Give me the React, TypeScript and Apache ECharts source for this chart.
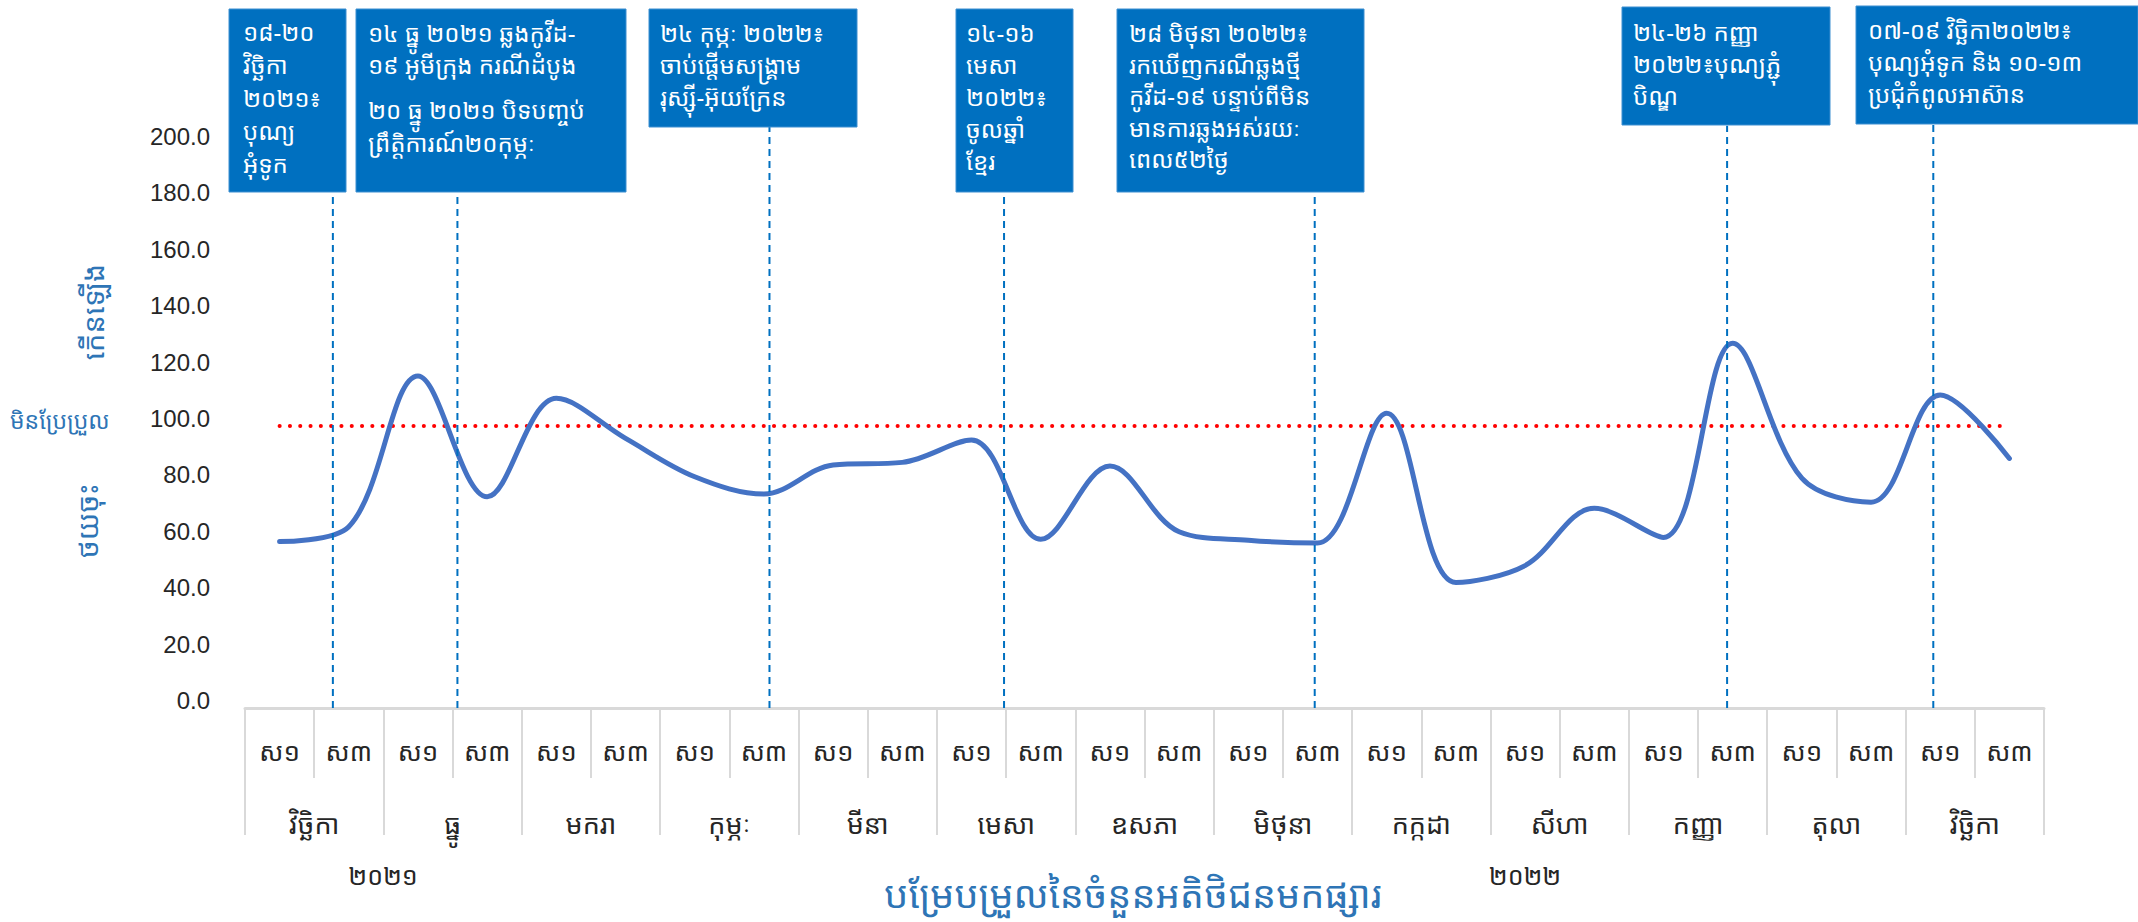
import React, { useEffect, useRef } from 'react';
import * as echarts from 'echarts';

// ---------- data ----------
const weekLabels = [
  'ស១', 'ស៣', 'ស១', 'ស៣', 'ស១', 'ស៣', 'ស១', 'ស៣', 'ស១', 'ស៣', 'ស១', 'ស៣', 'ស១',
  'ស៣', 'ស១', 'ស៣', 'ស១', 'ស៣', 'ស១', 'ស៣', 'ស១', 'ស៣', 'ស១', 'ស៣', 'ស១', 'ស៣',
];
const monthLabels = [
  'វិច្ឆិកា', 'ធ្នូ', 'មករា', 'កុម្ភៈ', 'មីនា', 'មេសា', 'ឧសភា',
  'មិថុនា', 'កក្កដា', 'សីហា', 'កញ្ញា', 'តុលា', 'វិច្ឆិកា',
];
const yearLabels = ['២០២១', '២០២២'];
const customerIndex = [
  59.0, 64.3, 117.7, 74.9, 109.8, 95.6, 82.0, 75.9, 86.2, 87.1, 95.0, 59.8, 85.8,
  62.5, 59.5, 58.5, 104.5, 44.5, 50.5, 70.8, 60.5, 129.3, 81.5, 73.0, 111.0, 88.5,
];
const unchangedLevel = 100;
const yMin = 0;
const yMax = 200;
const yInterval = 20;
// event positions in week-slot units (0 = left edge of first slot)
const eventPositions = [1.27, 3.07, 7.58, 10.97, 15.46, 21.42, 24.4];
const eventTops = [183, 183, 206, 183, 183, 206.5, 207];
const eventTexts: string[][][] = [
  [['១៨-២០', 'វិច្ឆិកា', '២០២១៖', 'បុណ្យ', 'អុំទូក']],
  [['១៤ ធ្នូ ២០២១ ឆ្លងកូវីដ-', '១៩ អូមីក្រុង ករណីដំបូង'], ['២០ ធ្នូ ២០២១ បិទបញ្ចប់', 'ព្រឹត្តិការណ៍២០កុម្ភៈ']],
  [['២៤ កុម្ភៈ ២០២២៖', 'ចាប់ផ្តើមសង្គ្រាម', 'រុស្ស៊ី-អ៊ុយក្រែន']],
  [['១៤-១៦', 'មេសា', '២០២២៖', 'ចូលឆ្នាំ', 'ខ្មែរ']],
  [['២៨ មិថុនា ២០២២៖', 'រកឃើញករណីឆ្លងថ្មី', 'កូវីដ-១៩ បន្ទាប់ពីមិន', 'មានការឆ្លងអស់រយៈ', 'ពេល៥២ថ្ងៃ']],
  [['២៤-២៦ កញ្ញា', '២០២២៖បុណ្យភ្ជុំ', 'បិណ្ឌ']],
  [['០៧-០៩ វិច្ឆិកា២០២២៖', 'បុណ្យអុំទូក និង ១០-១៣', 'ប្រជុំកំពូលអាស៊ាន']],
];
const chartTitle = 'បម្រែបម្រួលនៃចំនួនអតិថិជនមកផ្សារ';
const sideUp = 'កើនឡើង';
const sideFlat = 'មិនប្រែប្រួល';
const sideDown = 'ថយចុះ';

// ---------- layout / style ----------
const W = 2138;
const H = 922;
const KH = "'Noto Sans Khmer','Khmer OS System','Khmer OS','Noto Serif Khmer','Noto Sans',sans-serif";
const LAT = "'Liberation Sans',Arial,Helvetica,sans-serif";
const BOX_BLUE = '#0070C0';
const TXT_BLUE = '#2E75B6';
const GRAY = '#D9D9D9';
const DARK = '#262626';

// box layouts: rect and text blocks (top y of each block, line height)
const boxLayout = [
  { x: 229, y: 9, w: 117, h: 183, tx: 243, blocks: [{ y: 15, lh: 33 }] },
  { x: 356, y: 9, w: 270, h: 183, tx: 368, blocks: [{ y: 16, lh: 32 }, { y: 93, lh: 33 }] },
  { x: 649, y: 9, w: 208, h: 118, tx: 660, blocks: [{ y: 16, lh: 32 }] },
  { x: 956, y: 9, w: 117, h: 183, tx: 966, blocks: [{ y: 16, lh: 32 }] },
  { x: 1117, y: 9, w: 247, h: 183, tx: 1129, blocks: [{ y: 17, lh: 31.5 }] },
  { x: 1622, y: 7, w: 208, h: 118, tx: 1633, blocks: [{ y: 15, lh: 32 }] },
  { x: 1856, y: 6, w: 282, h: 118, tx: 1868, blocks: [{ y: 13, lh: 32 }] },
];

function buildGraphics() {
  const g: any[] = [];
  eventTexts.forEach((blocks, i) => {
    const L = boxLayout[i];
    g.push({
      type: 'rect',
      shape: { x: L.x, y: L.y, width: L.w, height: L.h },
      style: { fill: BOX_BLUE, stroke: '#3d8fd1', lineWidth: 1 },
      z: 100,
    });
    blocks.forEach((lines, b) => {
      const B = L.blocks[b];
      g.push({
        type: 'text',
        x: L.tx,
        y: B.y,
        z: 101,
        style: {
          text: lines.join('\n'),
          fill: '#FFFFFF',
          font: `24px ${KH}`,
          lineHeight: B.lh,
          align: 'left',
          verticalAlign: 'top',
        },
      });
    });
  });
  // year labels
  g.push({ type: 'text', x: 383, y: 875, style: { text: yearLabels[0], fill: DARK, font: `25px ${KH}`, align: 'center', verticalAlign: 'middle' } });
  g.push({ type: 'text', x: 1525, y: 875, style: { text: yearLabels[1], fill: DARK, font: `25px ${KH}`, align: 'center', verticalAlign: 'middle' } });
  // title
  g.push({ type: 'text', x: 1133, y: 893, style: { text: chartTitle, fill: TXT_BLUE, font: `38px ${KH}`, align: 'center', verticalAlign: 'middle' } });
  // side labels
  g.push({ type: 'text', x: 92, y: 312, rotation: Math.PI / 2, style: { text: sideUp, fill: TXT_BLUE, font: `29px ${KH}`, align: 'center', verticalAlign: 'middle' } });
  g.push({ type: 'text', x: 10, y: 420, style: { text: sideFlat, fill: TXT_BLUE, font: `23px ${KH}`, align: 'left', verticalAlign: 'middle' } });
  g.push({ type: 'text', x: 86, y: 521, rotation: Math.PI / 2, style: { text: sideDown, fill: TXT_BLUE, font: `29px ${KH}`, align: 'center', verticalAlign: 'middle' } });
  return g;
}

export default function App() {
  const ref = useRef<HTMLDivElement>(null);
  useEffect(() => {
    document.body.style.margin = '0';
    document.body.style.overflow = 'hidden';
    const chart = echarts.init(ref.current!, null, { renderer: 'svg' });
    const option: any = {
      animation: false,
      backgroundColor: '#FFFFFF',
      grid: { left: 245, right: 94, top: 144, bottom: 214, containLabel: false },
      xAxis: [
        {
          type: 'category',
          data: weekLabels,
          position: 'bottom',
          boundaryGap: true,
          axisLine: { show: true, lineStyle: { color: GRAY, width: 3 } },
          axisTick: { show: true, interval: 0, length: 70, lineStyle: { color: GRAY, width: 2 } },
          axisLabel: { interval: 0, margin: 43, verticalAlign: 'middle', color: DARK, fontSize: 26, fontFamily: KH },
          splitLine: { show: false },
        },
        {
          type: 'category',
          data: monthLabels,
          position: 'bottom',
          offset: 70,
          boundaryGap: true,
          axisLine: { show: false },
          axisTick: { show: true, interval: 0, length: 57, lineStyle: { color: GRAY, width: 2 } },
          axisLabel: { interval: 0, margin: 45, verticalAlign: 'middle', color: DARK, fontSize: 27, fontFamily: KH },
          splitLine: { show: false },
        },
        {
          type: 'value',
          min: 0,
          max: weekLabels.length,
          show: false,
        },
      ],
      yAxis: {
        type: 'value',
        min: yMin,
        max: yMax,
        interval: yInterval,
        axisLine: { show: false },
        axisTick: { show: false },
        splitLine: { show: false },
        axisLabel: {
          formatter: (v: number) => v.toFixed(1),
          color: DARK,
          fontSize: 24,
          fontFamily: LAT,
          margin: 35,
          verticalAlign: 'bottom',
          lineHeight: 15,
        },
      },
      graphic: buildGraphics(),
      series: [
        {
          name: 'unchanged',
          type: 'line',
          xAxisIndex: 0,
          yAxisIndex: 0,
          data: weekLabels.map(() => unchangedLevel),
          showSymbol: false,
          lineStyle: { color: '#FF0000', width: 4, type: [0.1, 10.2], cap: 'round' },
          z: 2,
          silent: true,
        },
        {
          name: 'index',
          type: 'line',
          xAxisIndex: 0,
          yAxisIndex: 0,
          data: customerIndex,
          smooth: 0.35,
          showSymbol: false,
          lineStyle: { color: '#4472C4', width: 5, cap: 'round' },
          z: 3,
        },
        {
          name: 'events',
          type: 'custom',
          xAxisIndex: 2,
          yAxisIndex: 0,
          clip: false,
          z: 4,
          data: eventPositions.map((p, i) => [p, eventTops[i]]),
          renderItem: (params: any, api: any) => {
            const x = api.value(0);
            const top = api.value(1);
            const p0 = api.coord([x, 0]);
            const p1 = api.coord([x, top]);
            return {
              type: 'line',
              shape: { x1: p0[0], y1: p0[1], x2: p1[0], y2: p1[1] },
              style: { stroke: BOX_BLUE, lineWidth: 2, lineDash: [7, 5] },
            };
          },
        },
      ],
    };
    chart.setOption(option);
    return () => chart.dispose();
  }, []);
  return <div ref={ref} style={{ width: W, height: H }} />;
}
